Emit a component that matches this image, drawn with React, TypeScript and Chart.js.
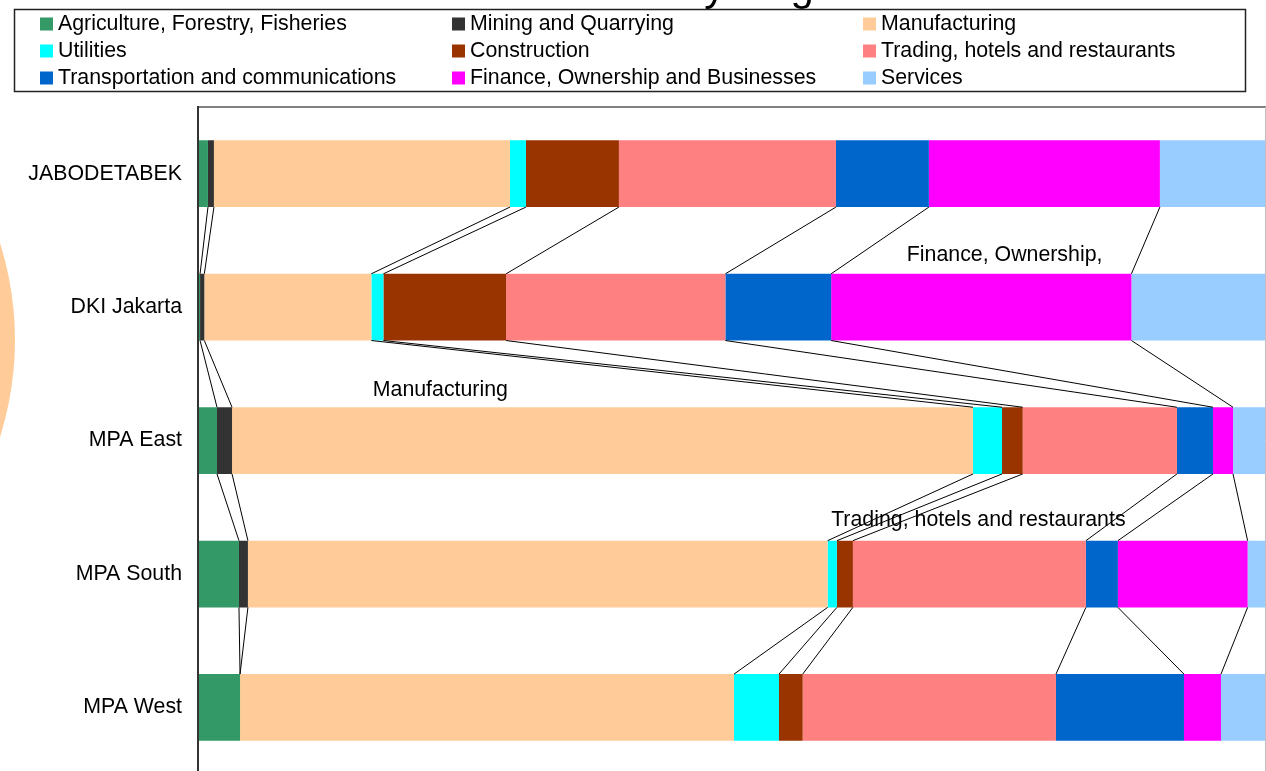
import { useEffect, useRef } from 'react';
import { Chart, registerables } from 'chart.js';

Chart.register(...registerables);

const regions = ['JABODETABEK', 'DKI Jakarta', 'MPA East', 'MPA South', 'MPA West'];

const sectorNames = [
  'Agriculture, Forestry, Fisheries',
  'Mining and Quarrying',
  'Manufacturing',
  'Utilities',
  'Construction',
  'Trading, hotels and restaurants',
  'Transportation and communications',
  'Finance, Ownership and Businesses',
  'Services',
];

// share of each sector (%) per region, in order of regions
const agriculture = [0.84, 0.1, 1.69, 3.75, 3.85];
const mining = [0.56, 0.4, 1.41, 0.84, 0.0];
const manufacturing = [27.77, 15.67, 69.51, 54.38, 46.34];
const utilities = [1.5, 1.13, 2.72, 0.87, 4.22];
const construction = [8.72, 11.51, 1.94, 1.5, 2.22];
const trading = [20.36, 20.57, 14.47, 21.86, 23.76];
const transportation = [8.72, 9.92, 3.38, 3.0, 12.01];
const finance = [21.67, 28.17, 1.88, 12.17, 3.47];
const services = [9.86, 12.53, 3.0, 1.63, 4.13];

const sectorColors = [
  '#339966', '#333333', '#FFCC99', '#00FFFF', '#993300',
  '#FF8080', '#0066CC', '#FF00FF', '#99CCFF',
];

const seriesValues = [
  agriculture, mining, manufacturing, utilities, construction,
  trading, transportation, finance, services,
];

const titleText = 'GRDP Structure by Region';

// annotation texts: [text, x value (%), y position in category units]
const annotations: [string, number, number][] = [
  ['Finance, Ownership,', 66.4, 0.61],
  ['Manufacturing', 16.3, 1.62],
  ['Trading, hotels and restaurants', 59.3, 2.595],
];

const FONT = '"Liberation Sans", Arial, sans-serif';
const FSIZE = 21.33;

const decorPlugin = {
  id: 'decor',
  beforeDraw(chart: any) {
    const ctx = chart.ctx;
    ctx.save();
    // partial circle (edge of an adjacent graphic)
    ctx.fillStyle = '#FFCC99';
    ctx.beginPath();
    ctx.arc(-306, 340, 321, 0, Math.PI * 2);
    ctx.fill();
    ctx.restore();
  },
  afterDatasetsDraw(chart: any) {
    const ctx = chart.ctx;
    const xs = chart.scales.x;
    const meta = chart.getDatasetMeta(0);
    ctx.save();
    ctx.strokeStyle = '#000';
    ctx.lineWidth = 1;
    for (let i = 0; i < regions.length - 1; i++) {
      const a = meta.data[i];
      const b = meta.data[i + 1];
      const yBottom = a.y + a.height / 2;
      const yTop = b.y - b.height / 2;
      let cumA = 0;
      let cumB = 0;
      for (let k = 0; k < seriesValues.length - 1; k++) {
        cumA += seriesValues[k][i];
        cumB += seriesValues[k][i + 1];
        ctx.beginPath();
        ctx.moveTo(xs.getPixelForValue(cumA), yBottom);
        ctx.lineTo(xs.getPixelForValue(cumB), yTop);
        ctx.stroke();
      }
    }
    // annotations
    const ys = chart.scales.y;
    ctx.fillStyle = '#000';
    ctx.font = `${FSIZE}px ${FONT}`;
    ctx.textAlign = 'left';
    ctx.textBaseline = 'middle';
    annotations.forEach(([t, xv, yv]) => {
      ctx.fillText(t, xs.getPixelForValue(xv), ys.getPixelForValue(yv));
    });
    ctx.restore();
  },
  afterDraw(chart: any) {
    const ctx = chart.ctx;
    const area = chart.chartArea;
    ctx.save();
    // plot frame
    ctx.strokeStyle = '#808080';
    ctx.lineWidth = 2;
    ctx.beginPath();
    ctx.moveTo(area.left, area.top);
    ctx.lineTo(area.right + 1, area.top);
    ctx.stroke();
    ctx.strokeStyle = '#C0C0C0';
    ctx.lineWidth = 1;
    ctx.beginPath();
    ctx.moveTo(area.right + 0.5, area.top);
    ctx.lineTo(area.right + 0.5, area.bottom);
    ctx.stroke();
    ctx.strokeStyle = '#333333';
    ctx.lineWidth = 2;
    ctx.beginPath();
    ctx.moveTo(area.left - 1, area.top - 1);
    ctx.lineTo(area.left - 1, area.bottom + 20);
    ctx.stroke();

    // title (mostly above the visible page)
    ctx.fillStyle = '#000';
    ctx.font = `42px ${FONT}`;
    ctx.textAlign = 'right';
    ctx.textBaseline = 'alphabetic';
    ctx.fillText(titleText, 870, 0);

    // legend box
    ctx.fillStyle = '#fff';
    ctx.fillRect(14, 9, 1232, 83);
    ctx.strokeStyle = '#222';
    ctx.lineWidth = 1.5;
    ctx.strokeRect(14.5, 9.5, 1231, 82);
    const colX = [40, 452, 863];
    const rowY = [24, 51, 78];
    ctx.font = `${FSIZE}px ${FONT}`;
    ctx.textAlign = 'left';
    ctx.textBaseline = 'middle';
    sectorNames.forEach((name, idx) => {
      const c = idx % 3;
      const r = Math.floor(idx / 3);
      ctx.fillStyle = sectorColors[idx];
      ctx.fillRect(colX[c], rowY[r] - 6.5, 13, 13);
      ctx.fillStyle = '#000';
      ctx.fillText(name, colX[c] + 18, rowY[r]);
    });
    ctx.restore();
  },
};

export default function App() {
  const ref = useRef<HTMLCanvasElement>(null);
  useEffect(() => {
    document.body.style.overflow = 'hidden';
    const canvas = ref.current!;
    const chart = new Chart(canvas, {
      type: 'bar',
      data: {
        labels: regions,
        datasets: seriesValues.map((vals, i) => ({
          label: sectorNames[i],
          data: vals,
          backgroundColor: sectorColors[i],
          borderWidth: 0,
          barPercentage: 0.5,
          categoryPercentage: 1.0,
        })),
      },
      options: {
        indexAxis: 'y',
        responsive: false,
        animation: false,
        layout: { padding: { left: 0, top: 107, right: 1, bottom: 26 } },
        plugins: {
          legend: { display: false },
          title: { display: false },
          tooltip: { enabled: false },
        },
        scales: {
          x: { stacked: true, min: 0, max: 100, display: false },
          y: {
            stacked: true,
            grid: { display: false, drawTicks: false },
            border: { display: false },
            ticks: {
              color: '#000',
              padding: 17,
              font: { family: FONT, size: FSIZE },
            },
            afterFit: (s: any) => {
              s.width = 199;
            },
          },
        },
      } as any,
      plugins: [decorPlugin],
    });
    return () => chart.destroy();
  }, []);
  return (
    <div style={{ position: 'fixed', left: 0, top: 0, width: 1266, height: 771, overflow: 'hidden', background: '#fff' }}>
      <canvas ref={ref} width={1266} height={804} style={{ display: 'block' }} />
    </div>
  );
}
